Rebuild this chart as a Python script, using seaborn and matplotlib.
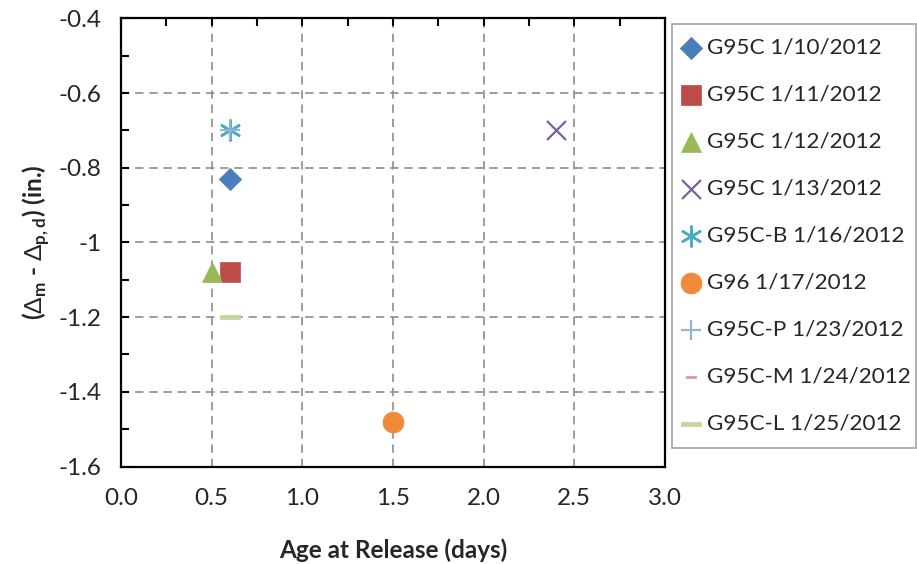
import numpy as np
import pandas as pd
import matplotlib
matplotlib.use("Agg")
import matplotlib.pyplot as plt
import seaborn as sns

# Release-age vs. camber difference, one point per casting
series = ["G95C 1/10/2012", "G95C 1/11/2012", "G95C 1/12/2012", "G95C 1/13/2012",
          "G95C-B 1/16/2012", "G96 1/17/2012", "G95C-P 1/23/2012",
          "G95C-M 1/24/2012", "G95C-L 1/25/2012"]
age_days = [0.6, 0.6, 0.5, 2.4, 0.6, 1.5, 0.6, 0.6, 0.6]
camber_diff = [-0.83, -1.08, -1.08, -0.70, -0.70, -1.48, -0.70, -1.20, -1.20]

x_ticks = [0.0, 0.5, 1.0, 1.5, 2.0, 2.5, 3.0]
x_tick_labels = ["0.0", "0.5", "1.0", "1.5", "2.0", "2.5", "3.0"]
y_ticks = [-0.4, -0.6, -0.8, -1.0, -1.2, -1.4, -1.6]
y_tick_labels = ["-0.4", "-0.6", "-0.8", "-1", "-1.2", "-1.4", "-1.6"]

df = pd.DataFrame({"series": series, "age": age_days, "diff": camber_diff})

dash = [(-1, -0.25), (1, -0.25), (1, 0.25), (-1, 0.25), (-1, -0.25)]
styles = {
    "G95C 1/10/2012":   dict(marker="D", s=130, color="#4A7EBB", lw=0.5),
    "G95C 1/11/2012":   dict(marker="s", s=207, color="#BE4B48", lw=0.5),
    "G95C 1/12/2012":   dict(marker="^", s=207, color="#98B954", lw=0.5),
    "G95C 1/13/2012":   dict(marker="x", s=187, color="#7D60A0", lw=1.6),
    "G95C-B 1/16/2012": dict(marker=(6, 2, 0), s=207, color="#4BACC6", lw=1.8),
    "G96 1/17/2012":    dict(marker="o", s=228, color="#F08A3A", lw=0.5),
    "G95C-P 1/23/2012": dict(marker="+", s=190, color="#95B3D7", lw=1.6),
    "G95C-M 1/24/2012": dict(marker=dash, s=60, color="#D99694", lw=0.5),
    "G95C-L 1/25/2012": dict(marker=dash, s=207, color="#C3D69B", lw=0.5),
}

FS = 17.5
FS_LEG = 16.2

sns.set_theme(style="white")
plt.rcParams["font.family"] = ["Lato", "DejaVu Sans"]
plt.rcParams["mathtext.fontset"] = "custom"
plt.rcParams["mathtext.bf"] = "Lato:bold"
plt.rcParams["mathtext.rm"] = "Lato"

fig = plt.figure(figsize=(9.17, 5.64), dpi=100)
ax = fig.add_axes([121 / 917, 1 - 466.5 / 564, (665 - 121) / 917, (466.5 - 18.3) / 564])

for name in series:
    st = styles[name]
    sub = df[df["series"] == name]
    unfilled = st["marker"] in ("x", "+") or isinstance(st["marker"], tuple)
    kw = dict(marker=st["marker"], s=st["s"], color=st["color"], linewidth=st["lw"],
              label=name, ax=ax, zorder=3, legend=True)
    if not unfilled:
        kw["edgecolor"] = st["color"]
    sns.scatterplot(data=sub, x="age", y="diff", **kw)

ax.set_xlim(0, 3.0)
ax.set_ylim(-1.6, -0.4)
ax.set_xticks(x_ticks)
ax.set_xticklabels(x_tick_labels)
ax.set_yticks(y_ticks)
ax.set_yticklabels(y_tick_labels)
ax.set_xticks(np.arange(0, 3.01, 0.25), minor=True)
ax.set_yticks(np.arange(-1.6, -0.39, 0.1), minor=True)

ax.tick_params(axis="x", which="both", bottom=False, top=True, labelbottom=True,
               labeltop=False, direction="in", length=6, width=1.5, color="black",
               labelsize=FS, pad=15.5)
ax.tick_params(axis="y", which="both", left=True, right=False, direction="in",
               length=6, width=1.5, color="black", labelsize=FS, pad=14)

ax.grid(True, which="major", color="#8C8C8C", linestyle=(0, (5, 3.5)), linewidth=1.2)
ax.set_axisbelow(True)
for sp in ax.spines.values():
    sp.set_visible(True)
    sp.set_color("black")
    sp.set_linewidth(1.6)

ax.set_xlabel("Age at Release (days)", fontsize=FS, fontweight="bold", labelpad=21)
ax.set_ylabel(r"($\Delta_{\mathbf{m}}$ - $\Delta_{\mathbf{p,d}}$) (in.)",
              fontsize=FS, fontweight="bold", labelpad=5)

handles, labels = ax.get_legend_handles_labels()
if ax.legend_ is not None:
    ax.legend_.remove()
leg = fig.legend(handles, labels, loc="upper left",
                 bbox_to_anchor=(672 / 917, 1 - 448 / 564, 244 / 917, 424 / 564),
                 bbox_transform=fig.transFigure, mode="expand",
                 fontsize=FS_LEG, frameon=True, fancybox=False,
                 edgecolor="#8C8C8C", borderpad=0.62, labelspacing=1.2,
                 handlelength=0.42, handletextpad=0.5, borderaxespad=0, scatterpoints=1)
leg.get_frame().set_linewidth(1.2)

fig.savefig("out.png", dpi=100)
